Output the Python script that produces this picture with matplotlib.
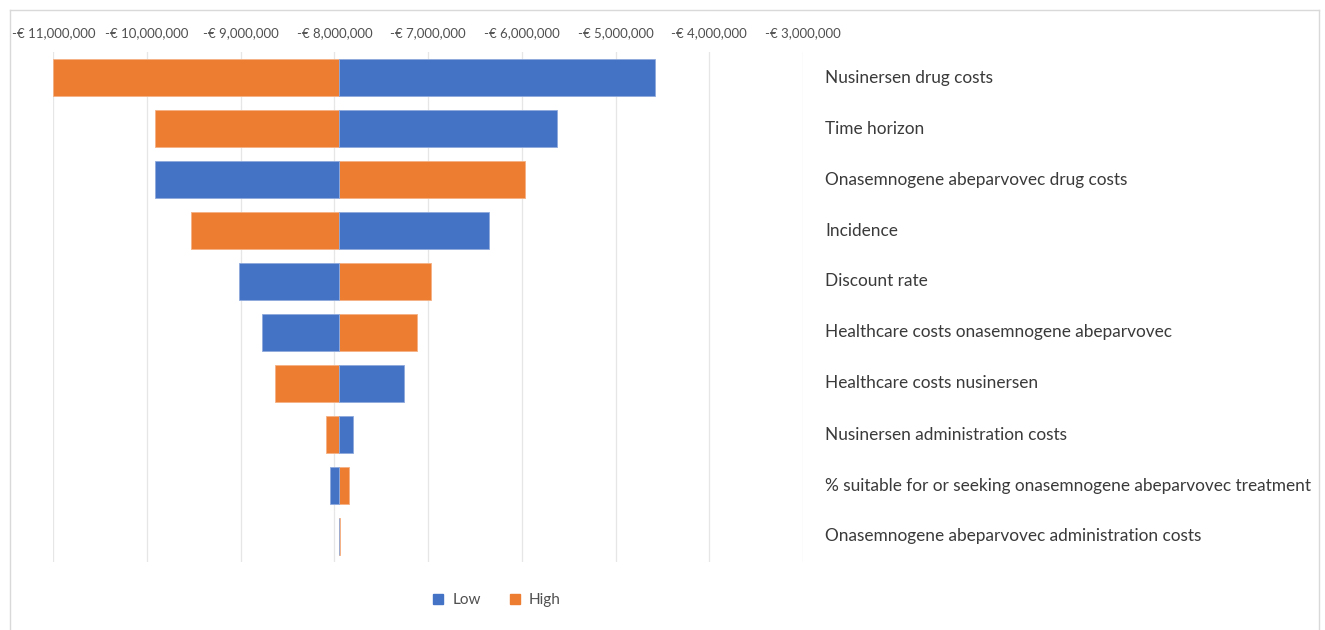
import matplotlib
matplotlib.use("Agg")
import matplotlib.pyplot as plt
from matplotlib.patches import Rectangle
from matplotlib.lines import Line2D

plt.rcParams['font.family'] = ['Lato', 'DejaVu Sans']

categories = [
    "Nusinersen drug costs",
    "Time horizon",
    "Onasemnogene abeparvovec drug costs",
    "Incidence",
    "Discount rate",
    "Healthcare costs onasemnogene abeparvovec",
    "Healthcare costs nusinersen",
    "Nusinersen administration costs",
    "% suitable for or seeking onasemnogene abeparvovec treatment",
    "Onasemnogene abeparvovec administration costs",
]
base_value = -7_950_000
low_values = [-4_580_000, -5_630_000, -9_915_000, -6_350_000, -9_020_000,
              -8_770_000, -7_260_000, -7_800_000, -8_045_000, -7_950_000]
high_values = [-11_000_000, -9_920_000, -5_970_000, -9_530_000, -6_970_000,
               -7_115_000, -8_630_000, -8_090_000, -7_840_000, -7_944_000]
tick_values = [-11_000_000, -10_000_000, -9_000_000, -8_000_000, -7_000_000,
               -6_000_000, -5_000_000, -4_000_000, -3_000_000]
tick_labels = ["-€ 11,000,000", "-€ 10,000,000", "-€ 9,000,000", "-€ 8,000,000",
               "-€ 7,000,000", "-€ 6,000,000", "-€ 5,000,000", "-€ 4,000,000",
               "-€ 3,000,000"]

BLUE = "#4472C4"
ORANGE = "#ED7D31"

W, H = 1325, 630
fig = plt.figure(figsize=(W / 100, H / 100), dpi=100)
ax = fig.add_axes([53.3 / W, 1 - 562 / H, (803 - 53.3) / W, (562 - 52) / H])

y = list(range(len(categories)))
low_w = [v - base_value for v in low_values]
high_w = [v - base_value for v in high_values]
ax.barh(y, high_w, left=base_value, height=0.72, color=ORANGE,
        edgecolor="#f4b183", linewidth=0.6, label="High", zorder=3)
ax.barh(y, low_w, left=base_value, height=0.72, color=BLUE,
        edgecolor="#8faadc", linewidth=0.6, label="Low", zorder=3)

ax.set_xlim(-11_000_000, -3_000_000)
ax.set_ylim(len(categories) - 0.5, -0.5)
ax.set_xticks(tick_values)
ax.set_xticklabels(tick_labels)
ax.xaxis.tick_top()
ax.tick_params(axis='x', length=0, pad=9, labelsize=9.5, labelcolor="#505050")
ax.set_yticks([])
for s in ax.spines.values():
    s.set_visible(False)
ax.grid(axis='x', color="#e6e6e6", linewidth=0.9, zorder=0)

for i, lab in enumerate(categories):
    ax.text(1.0294, i, lab, transform=ax.get_yaxis_transform(), va='center',
            ha='left', fontsize=12.4, color="#3a3a3a")

handles = [Rectangle((0, 0), 1, 1, color=BLUE), Rectangle((0, 0), 1, 1, color=ORANGE)]
fig.legend(handles, ["Low", "High"], loc='center', bbox_to_anchor=(497 / W, 1 - 600 / H),
           ncol=2, frameon=False, fontsize=11, handlelength=0.65, handleheight=0.65,
           columnspacing=1.9, handletextpad=0.6, labelcolor="#505050")

# outer frame
fig.add_artist(Line2D([10 / W, 10 / W], [0, 1 - 10 / H], color="#d9d9d9", lw=1, transform=fig.transFigure))
fig.add_artist(Line2D([10 / W, 1319 / W], [1 - 10 / H, 1 - 10 / H], color="#d9d9d9", lw=1, transform=fig.transFigure))
fig.add_artist(Line2D([1319 / W, 1319 / W], [0, 1 - 10 / H], color="#d9d9d9", lw=1, transform=fig.transFigure))

fig.savefig("out.png", dpi=100, facecolor="white")
